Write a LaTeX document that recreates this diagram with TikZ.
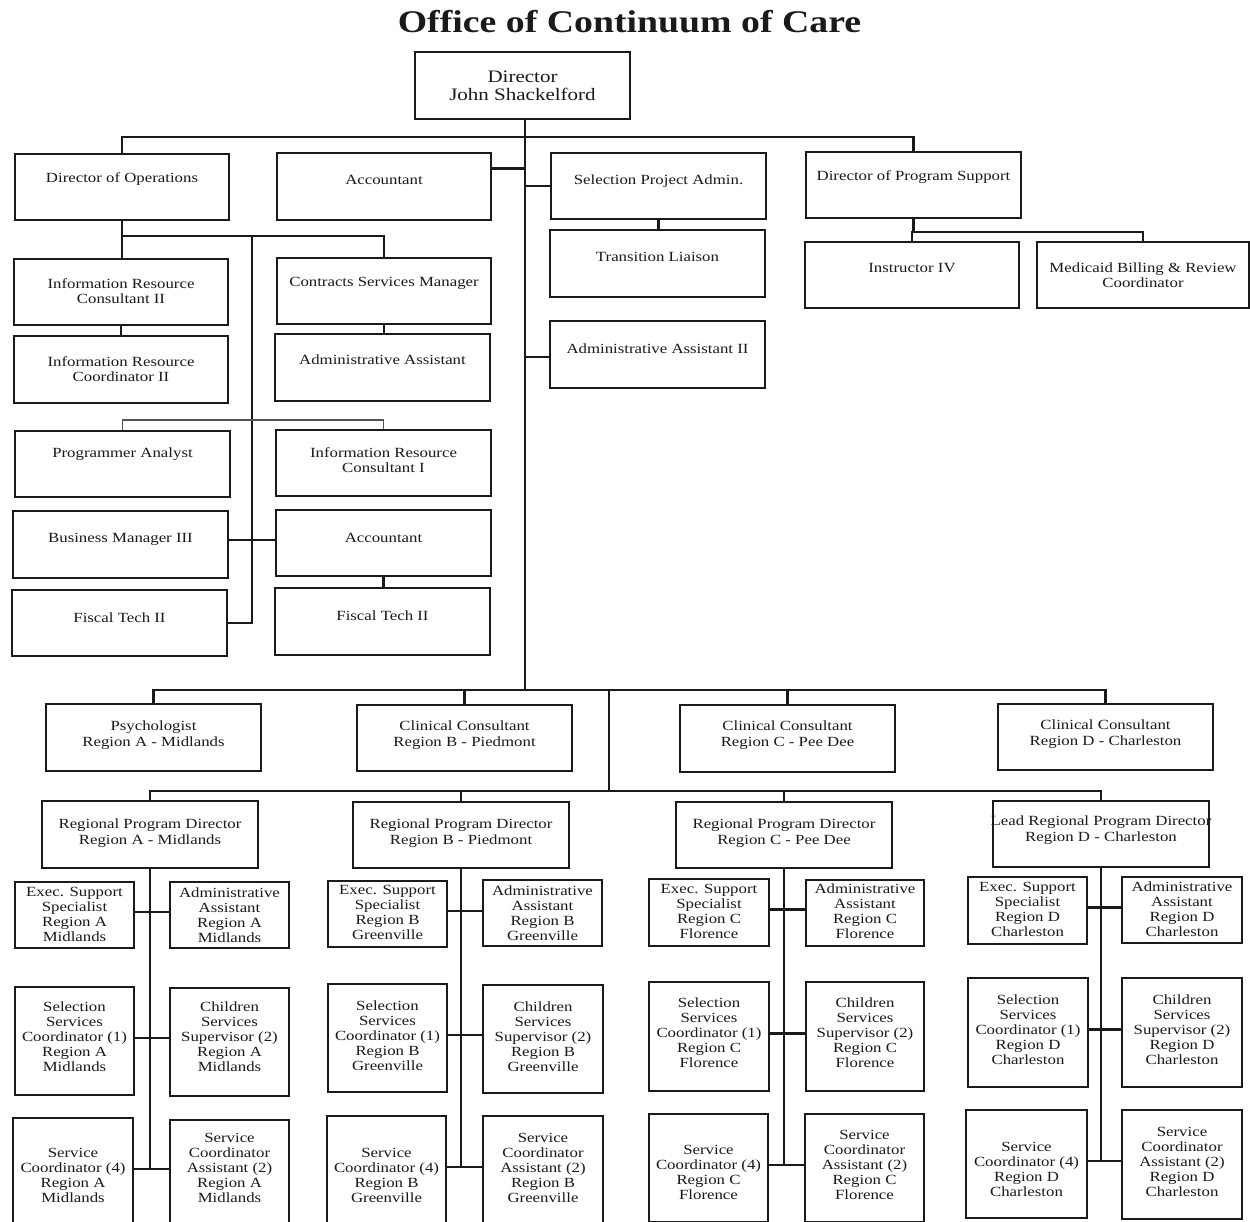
\documentclass[tikz,border=0pt]{standalone}
\usepackage{fontspec}
\setmainfont[FakeStretch=1.2]{Liberation Serif}
\definecolor{ink}{HTML}{1A1A1A}
% box with its label: [label style]{name}{x1}{y1}{x2}{y2}{label centre y}{label}
\newcommand\bx[8][lbl]{%
  \node[box, minimum width={#5-#3}, minimum height={#6-#4}] (#2) at ({(#3+#5)/2},{(#4+#6)/2}) {};
  \node[#1] (#2-t) at ({(#3+#5)/2},#7) {#8};}
% one regional team: director, then the three pairs of boxes left/right of its line
\newcommand\team[7]{%
  \draw[conn] (#1.south) -- ([yshift=3pt]#6.east -| #1.south);
  \draw[conn] ([yshift=3pt]#2.east) -- ([yshift=3pt]#2.east -| #3.west);
  \draw[conn] ([yshift=3pt]#4.east) -- ([yshift=3pt]#4.east -| #5.west);
  \draw[conn] ([yshift=3pt]#6.east) -- ([yshift=3pt]#6.east -| #7.west);}
\begin{document}
\begin{tikzpicture}[x=1pt,y=-1pt,
  box/.style={draw=ink, line width=2.5pt, inner sep=0pt, fill=white},
  lbl/.style={inner sep=0pt, align=center, text=ink, font=\fontsize{14}{15.5}\selectfont},
  sml/.style={lbl, font=\fontsize{14}{15}\selectfont},
  big/.style={lbl, font=\fontsize{17.5}{18.5}\selectfont},
  conn/.style={draw=ink, line width=2.3pt},
  thinconn/.style={draw=ink!75, line width=1.4pt}]
\useasboundingbox (0,0) rectangle (1250,1222);
\clip (0,0) rectangle (1250,1222);
\fill[white] (0,0) rectangle (1250,1222);

\node[inner sep=0pt, text=ink, font=\fontsize{31.5}{34}\selectfont\bfseries] (title) at (629.5,22) {Office of Continuum of Care};

% head
\bx[big]{dir}{415}{52}{630}{119}{86}{Director\\John Shackelford}

% administration
\bx{dop}{15}{154}{229}{220}{179}{Director of Operations}
\bx{acc1}{277}{153}{491}{220}{180}{Accountant}
\bx{spa}{551}{153}{766}{219}{181}{Selection Project Admin.}
\bx{dps}{806}{152}{1021}{218}{177}{Director of Program Support}
\bx{tl}{550}{230}{765}{297}{257}{Transition Liaison}
\bx{aa2}{550}{321}{765}{388}{349}{Administrative Assistant II}
\bx{ins}{805}{242}{1019}{308}{268}{Instructor IV}
\bx{mbr}{1037}{242}{1249}{308}{275}{Medicaid Billing \& Review\\Coordinator}
\bx{irc2}{14}{259}{228}{325}{291}{Information Resource\\Consultant II}
\bx{csm}{277}{258}{491}{324}{283}{Contracts Services Manager}
\bx{irco}{14}{336}{228}{403}{369}{Information Resource\\Coordinator II}
\bx{aa}{275}{334}{490}{401}{360}{Administrative Assistant}
\bx{pa}{15}{431}{230}{497}{454}{Programmer Analyst}
\bx{irc1}{276}{430}{491}{496}{460}{Information Resource\\Consultant I}
\bx{bm}{13}{511}{228}{578}{539}{Business Manager III}
\bx{acc2}{276}{510}{491}{576}{538}{Accountant}
\bx{ft1}{12}{590}{227}{656}{618}{Fiscal Tech II}
\bx{ft2}{275}{588}{490}{655}{616}{Fiscal Tech II}

% clinical consultants
\bx{psy}{46}{704}{261}{771}{735}{Psychologist\\Region A - Midlands}
\bx{ccb}{357}{705}{572}{771}{735}{Clinical Consultant\\Region B - Piedmont}
\bx{ccc}{680}{705}{895}{772}{735}{Clinical Consultant\\Region C - Pee Dee}
\bx{ccd}{998}{704}{1213}{770}{734}{Clinical Consultant\\Region D - Charleston}

% regional program directors
\bx{rpa}{42}{801}{258}{868}{833}{Regional Program Director\\Region A - Midlands}
\bx{rpb}{353}{802}{569}{868}{833}{Regional Program Director\\Region B - Piedmont}
\bx{rpc}{676}{802}{892}{868}{833}{Regional Program Director\\Region C - Pee Dee}
\bx{rpd}{993}{801}{1209}{867}{830}{Lead Regional Program Director\\Region D - Charleston}

% region A
\bx[sml]{esa}{15}{882}{134}{948}{914}{Exec. Support\\Specialist\\Region A\\Midlands}
\bx[sml]{aaa}{170}{882}{289}{948}{915}{Administrative\\Assistant\\Region A\\Midlands}
\bx[sml]{ssa}{15}{987}{134}{1095}{1037}{Selection\\Services\\Coordinator (1)\\Region A\\Midlands}
\bx[sml]{csa}{170}{988}{289}{1096}{1037}{Children\\Services\\Supervisor (2)\\Region A\\Midlands}
\bx[sml]{sca}{13}{1118}{133}{1226}{1175}{Service\\Coordinator (4)\\Region A\\Midlands}
\bx[sml]{saa}{170}{1120}{289}{1228}{1168}{Service\\Coordinator\\Assistant (2)\\Region A\\Midlands}

% region B
\bx[sml]{esb}{328}{881}{447}{947}{912.5}{Exec. Support\\Specialist\\Region B\\Greenville}
\bx[sml]{aab}{483}{880}{602}{946}{913.5}{Administrative\\Assistant\\Region B\\Greenville}
\bx[sml]{ssb}{328}{984}{447}{1092}{1036}{Selection\\Services\\Coordinator (1)\\Region B\\Greenville}
\bx[sml]{csb}{483}{985}{603}{1093}{1036.5}{Children\\Services\\Supervisor (2)\\Region B\\Greenville}
\bx[sml]{scb}{327}{1116}{446}{1224}{1175}{Service\\Coordinator (4)\\Region B\\Greenville}
\bx[sml]{sab}{483}{1116}{603}{1224}{1168}{Service\\Coordinator\\Assistant (2)\\Region B\\Greenville}

% region C
\bx[sml]{esc}{649}{879}{769}{946}{911}{Exec. Support\\Specialist\\Region C\\Florence}
\bx[sml]{aac}{806}{880}{924}{946}{911.5}{Administrative\\Assistant\\Region C\\Florence}
\bx[sml]{ssc}{649}{982}{769}{1091}{1033}{Selection\\Services\\Coordinator (1)\\Region C\\Florence}
\bx[sml]{csc}{806}{982}{924}{1091}{1033}{Children\\Services\\Supervisor (2)\\Region C\\Florence}
\bx[sml]{scc}{649}{1114}{768}{1222}{1172.5}{Service\\Coordinator (4)\\Region C\\Florence}
\bx[sml]{sac}{805}{1114}{924}{1222}{1165}{Service\\Coordinator\\Assistant (2)\\Region C\\Florence}

% region D
\bx[sml]{esd}{968}{877}{1087}{944}{909.5}{Exec. Support\\Specialist\\Region D\\Charleston}
\bx[sml]{aad}{1122}{877}{1242}{943}{909.5}{Administrative\\Assistant\\Region D\\Charleston}
\bx[sml]{ssd}{968}{978}{1088}{1087}{1030}{Selection\\Services\\Coordinator (1)\\Region D\\Charleston}
\bx[sml]{csd}{1122}{978}{1242}{1087}{1030}{Children\\Services\\Supervisor (2)\\Region D\\Charleston}
\bx[sml]{scd}{966}{1110}{1087}{1218}{1169}{Service\\Coordinator (4)\\Region D\\Charleston}
\bx[sml]{sad}{1122}{1110}{1242}{1219}{1161.5}{Service\\Coordinator\\Assistant (2)\\Region D\\Charleston}

% main line and top bar
\coordinate (tb) at (525,690);
\coordinate (hb) at (525,137);
\draw[conn] (dir.south -| tb) -- (tb);
\draw[conn] (dop.north) |- (hb) -| (dps.north);
\draw[conn] ([yshift=18pt]acc1.east) -- ([yshift=18pt]acc1.east -| tb);
\draw[conn] (spa.west) -- (spa.west -| tb);
\draw[conn] ([yshift=-2.5pt]aa2.west) -- ([yshift=-2.5pt]aa2.west -| tb);
\draw[conn] (spa.south) -- (spa.south |- tl.north);

% program support
\coordinate (pb) at (913,232);
\draw[conn] (dps.south) -- (dps.south |- pb);
\draw[conn] (ins.north) |- (pb) -| (mbr.north);

% operations
\coordinate (ob) at (122,236);
\coordinate (ov) at (252,236);
\coordinate (ib) at (252,420);
\draw[conn] (dop.south) -- (dop.south |- irc2.north);
\draw[conn] (ob) -| (csm.north);
\draw[conn] (ov) |- (ft1.east);
\draw[conn] (irc2.south) -- (irc2.south |- irco.north);
\draw[conn] (csm.south) -- (csm.south |- aa.north);
\draw[thinconn] (pa.north) |- (ib) -| (irc1.north);
\draw[conn] ([yshift=4.5pt]bm.east) -- ([yshift=4.5pt]bm.east -| acc2.west);
\draw[conn] (acc2.south) -- (acc2.south |- ft2.north);

% regions
\coordinate (mt) at (609,690);
\coordinate (mb) at (609,791);
\draw[conn] (psy.north) |- (tb) -| (ccd.north);
\draw[conn] (ccb.north) -- (ccb.north |- tb);
\draw[conn] (ccc.north) -- (ccc.north |- tb);
\draw[conn] (mt) -- (mb);
\draw[conn] (rpa.north) |- (mb) -| (rpd.north);
\draw[conn] (rpb.north) -- (rpb.north |- mb);
\draw[conn] (rpc.north) -- (rpc.north |- mb);

\team{rpa}{esa}{aaa}{ssa}{csa}{sca}{saa}
\team{rpb}{esb}{aab}{ssb}{csb}{scb}{sab}
\team{rpc}{esc}{aac}{ssc}{csc}{scc}{sac}
\team{rpd}{esd}{aad}{ssd}{csd}{scd}{sad}
\end{tikzpicture}
\end{document}
